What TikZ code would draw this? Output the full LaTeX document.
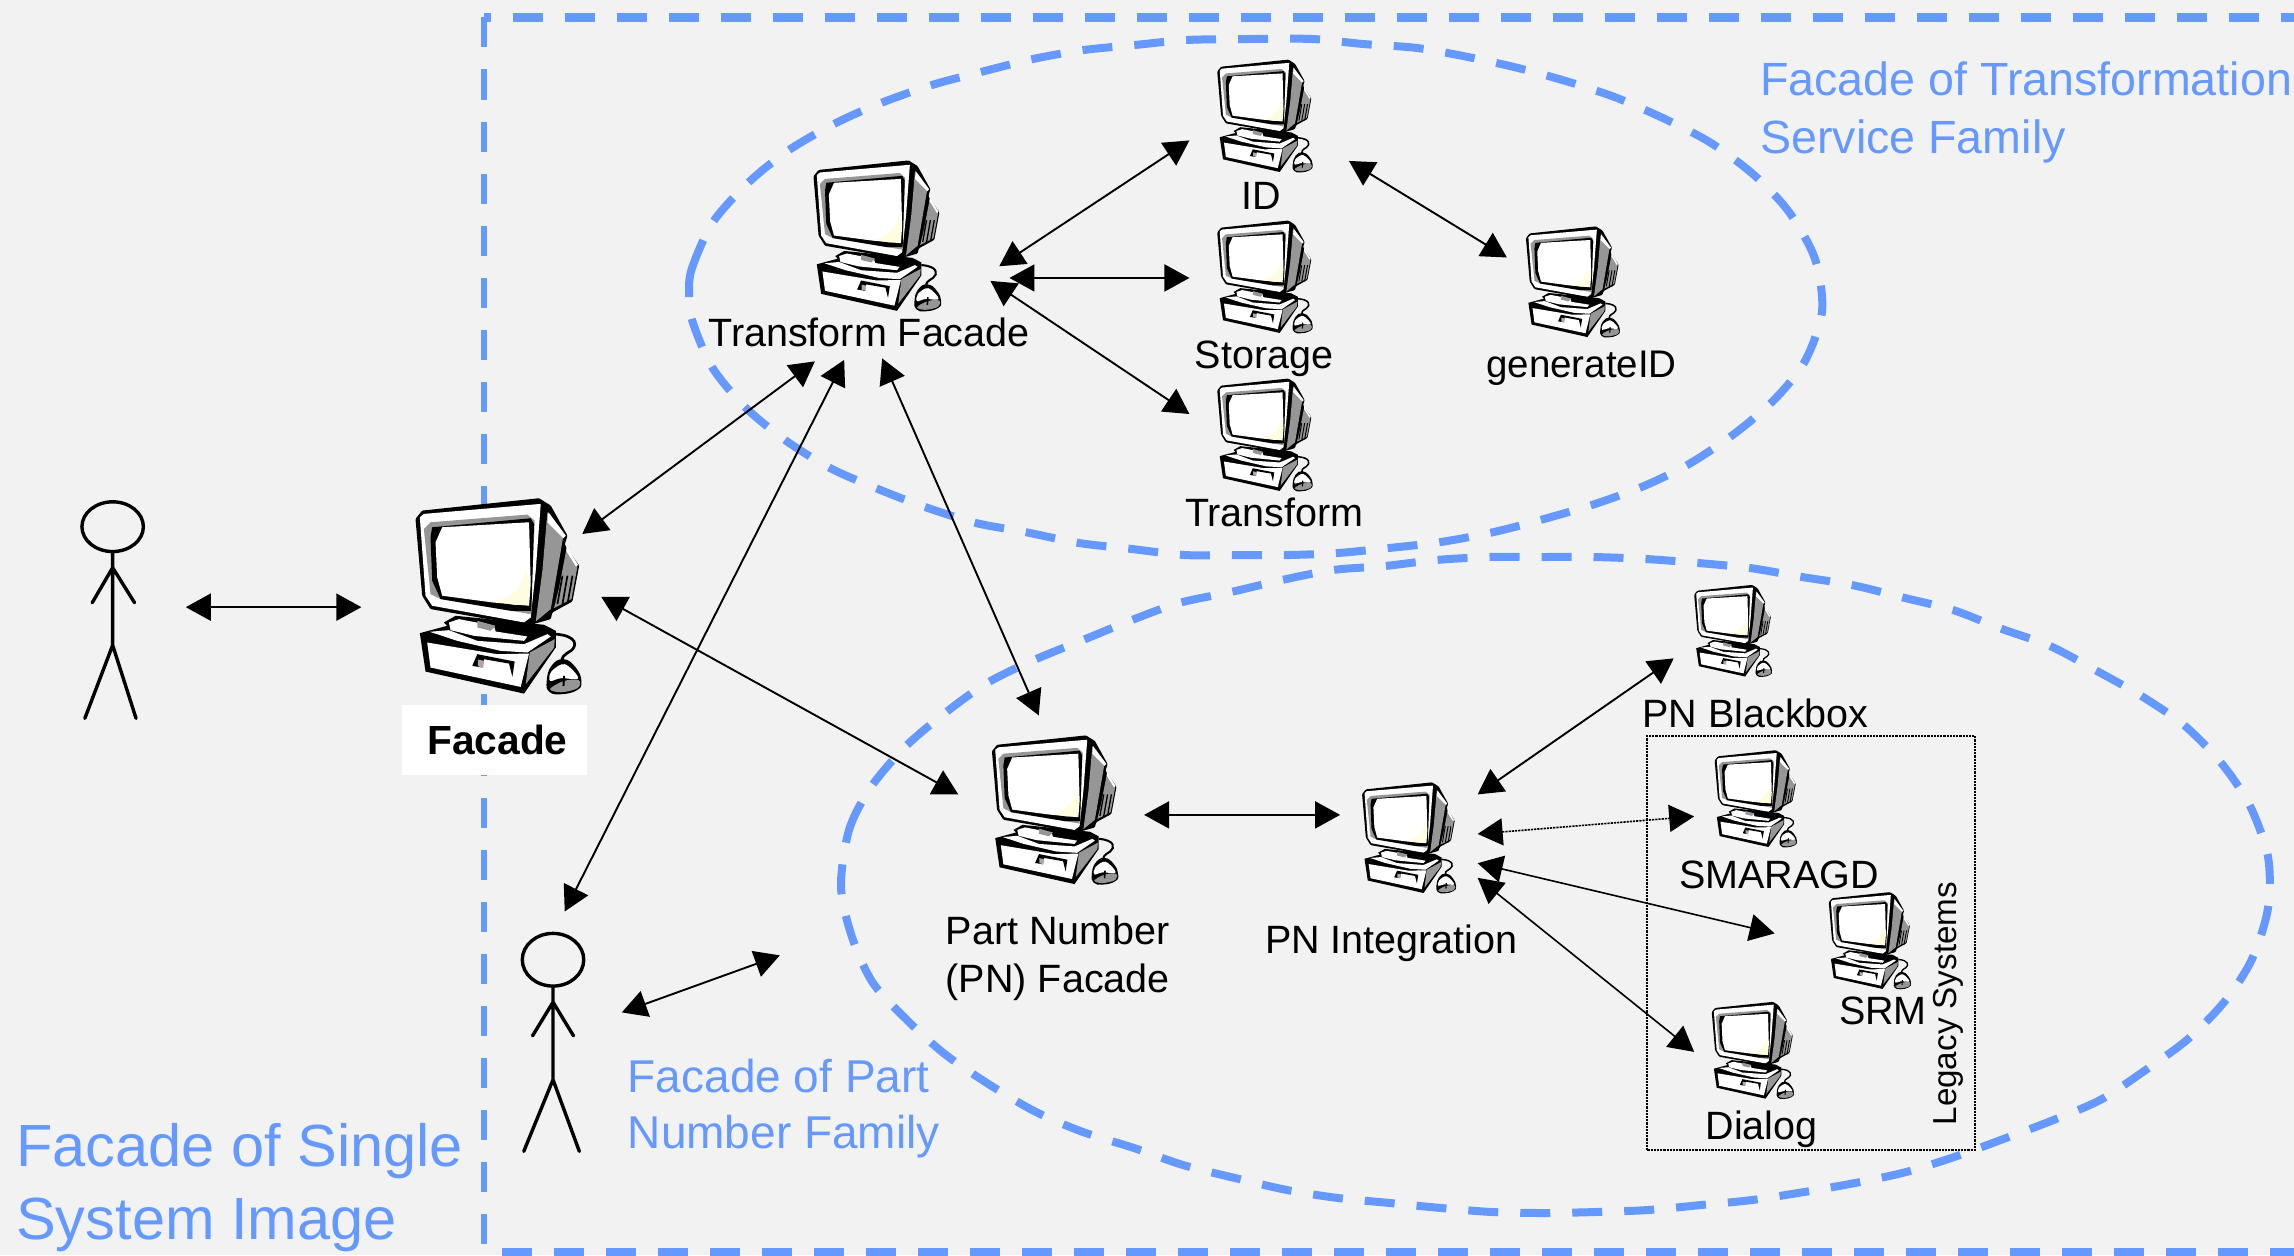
\documentclass[tikz,border=0pt]{standalone}
\usepackage{fontspec}
\setmainfont{Liberation Sans}
\usetikzlibrary{arrows.meta}
\definecolor{bgc}{HTML}{F2F2F2}
\definecolor{bluec}{HTML}{6699FF}
\definecolor{greyc}{HTML}{969696}
\definecolor{slotc}{HTML}{B5A5A5}
\tikzset{
  twoway/.style={{Triangle[length=25pt,width=27pt]}-{Triangle[length=25pt,width=27pt]},line width=1.9pt,black},
  thinway/.style={twoway,line width=1.6pt},
  dotway/.style={thinway,dash pattern=on 2.2pt off 1pt},
  dashblue/.style={draw=bluec,dash pattern=on 30pt off 22pt},
  familyline/.style={dashblue,line width=8pt},
  lbl/.style={inner sep=0pt,anchor=base,font=\fontsize{39.5}{47}\selectfont},
  bluelbl/.style={inner sep=0pt,anchor=west,align=left,text=bluec},
  stick/.style={line width=3.4pt,black,line cap=round,line join=round},
}
\newcommand{\computer}[3]{%
\pgfmathsetmacro{\cs}{#3*1.463/495}
\begin{scope}[shift={(#1,#2)}]
\begin{scope}[x=\cs pt,y=-\cs pt,shift={(-105,-85)}]
 \fill[black,rounded corners=1pt] (105,145)--(125,120)--(475,83)--(510,105)--(560,195)--(552,222)--(595,285)--(575,392)--(515,425)--(510,445)--(440,465)--(150,415)--(125,375)--cycle;
 \fill[white] (118,140)--(130,130)--(480,100)--(465,300)--(450,440)--(430,455)--(155,405)--(135,375)--cycle;
 \fill[greyc] (130,175)--(150,155)--(440,132)--(462,150)--(450,430)--(180,385)--(150,370)--cycle;
 \fill[black] (155,170)--(450,143)--(460,160)--(452,420)--(390,420)--(180,385)--(155,330)--(150,200)--cycle;
 \fill[white] (165,215)--(185,170)--(445,155)--(450,340)--(445,405)--(335,395)--(185,375)--(170,320)--cycle;
 \fill[yellow!12!white] (435,295) .. controls (425,360) and (385,385) .. (335,392) -- (400,402) -- (442,402) -- (447,340) -- cycle;
 \fill[greyc] (500,125)--(547,200)--(510,415)--(465,452)--(485,300)--cycle;
 \fill[white] (503,125)--(555,195)--(548,203)--(500,155)--cycle;
 \fill[greyc] (557,235)--(590,287)--(572,385)--(520,412)--(535,350)--cycle;
 \fill[white] (557,225)--(592,283)--(585,287)--(557,242)--cycle;
 \foreach \vx in {530,545,560} \draw[black,line width=\cs*5pt] (\vx,400)--(\vx+15,315);
 \fill[black] (118,487)--(200,465)--(190,455)--(225,435)--(490,462)--(525,480)--(525,530)--(430,668)--(135,602)--cycle;
 \fill[white] (205,455)--(235,445)--(340,465)--(345,482)--(440,497)--(430,510)--(280,495)--(210,478)--cycle;
 \fill[greyc] (290,450)--(345,465)--(330,480)--(290,470)--cycle;
 \fill[white] (148,483)--(205,478)--(290,510)--(430,520)--(500,490)--(510,497)--(440,545)--(360,540)--(230,510)--cycle;
 \fill[white] (140,515)--(350,550)--(445,548)--(420,648)--(150,590)--cycle;
 \fill[greyc] (447,545)--(522,505)--(520,530)--(435,640)--cycle;
 \fill[black] (275,585)--(290,550)--(402,572)--(395,618)--(385,578)--(310,565)--(305,590)--cycle;
 \fill[slotc] (292,566)--(310,570)--(308,590)--(292,586)--cycle;
 \draw[black,line width=\cs*8pt] (525,490) .. controls (590,495) and (590,525) .. (570,540) .. controls (550,552) and (540,560) .. (545,572);
 \fill[black] plot[smooth cycle,tension=.8] coordinates {(498,630)(512,585)(548,565)(585,590)(602,632)(588,658)(540,670)(505,662)};
 \fill[white] plot[smooth cycle,tension=.6] coordinates {(512,602)(552,580)(592,622)(540,622)(508,630)};
 \fill[greyc] plot[smooth cycle,tension=.6] coordinates {(508,654)(550,630)(594,628)(590,652)(540,664)};
 \draw[black,line width=\cs*6pt] (550,615)--(548,645);
\end{scope}
\end{scope}}
\begin{document}
\begin{tikzpicture}[x=1.463pt,y=-1.463pt]
\path[use as bounding box,fill=bgc] (0,0) rectangle (1568,858);
% family boundaries, in full-size pixels
\begin{scope}[x=1pt,y=-1pt]
\clip (0,0) rectangle (2294,1255);
\coordinate (sstl) at (484,17.5);
\coordinate (sstr) at (2294,17.5);
\coordinate (ssbl) at (484,1252);
\coordinate (ssbr) at (2294,1252);
\draw[dashblue,line width=8.5pt,dash phase=23pt] (sstl) -- (sstr);
\draw[dashblue,line width=8.5pt,dash phase=34pt] (ssbl) -- (ssbr);
\draw[dashblue,line width=6pt] (sstl) -- (ssbl);
\draw[familyline] plot[smooth cycle,tension=.5] coordinates {(689,293)(692,268)(713,222)(749,182)(789,150)(836,123)(881,103)(932,85)(981,72)(1033,59)(1084,50)(1135,45)(1187,40)(1249,39)(1312,39)(1363,44)(1417,48)(1468,57)(1518,68)(1569,82)(1617,98)(1667,120)(1711,143)(1754,175)(1789,212)(1815,259)(1822,311)(1805,361)(1774,400)(1734,434)(1689,464)(1644,486)(1595,504)(1544,519)(1494,532)(1441,542)(1389,548)(1338,553)(1289,555)(1235,555)(1184,555)(1132,549)(1079,543)(1025,532)(976,523)(925,507)(878,489)(830,468)(785,440)(745,407)(712,367)(692,320)};
\draw[familyline] plot[smooth cycle,tension=.5] coordinates {(841,887)(849,830)(871,787)(905,747)(945,713)(987,683)(1034,660)(1083,640)(1132,620)(1179,603)(1231,592)(1282,580)(1333,570)(1385,566)(1436,560)(1490,557)(1542,557)(1593,557)(1646,559)(1698,563)(1750,568)(1802,577)(1852,585)(1905,598)(1953,610)(2002,629)(2050,646)(2097,671)(2143,697)(2185,726)(2222,764)(2250,806)(2268,857)(2268,908)(2252,959)(2225,1001)(2188,1039)(2147,1069)(2102,1099)(2056,1119)(2006,1138)(1957,1156)(1906,1172)(1855,1183)(1804,1192)(1752,1200)(1701,1205)(1648,1210)(1596,1212)(1544,1213)(1492,1212)(1441,1208)(1390,1203)(1338,1198)(1287,1190)(1235,1178)(1183,1165)(1134,1148)(1083,1132)(1036,1112)(990,1085)(946,1055)(910,1023)(873,983)(852,937)};
\end{scope}
% legacy frame
\node[draw=black,dash pattern=on 2.2pt off 1pt,line width=2pt,minimum width=224*1.463pt,minimum height=283*1.463pt,inner sep=0pt] (legacy) at (1238,644.5) {};
\node[inner sep=0pt,rotate=90,font=\fontsize{33.2}{40}\selectfont] (legacylbl) at (1332,686) {Legacy Systems};
% facade label
\node[fill=white,minimum width=126*1.463pt,minimum height=48*1.463pt,inner sep=0pt] (facadebox) at (338,506) {};
\node[inner sep=0pt,anchor=base,font=\fontsize{40.7}{47}\bfseries\selectfont] (facadelbl) at (340,516) {Facade};
% computers
\computer{284}{341}{113}
\computer{556}{110}{87}
\computer{832}{41}{65}
\computer{832}{151}{65}
\computer{832}{259}{65}
\computer{1043}{155}{64}
\computer{678}{503}{86}
\computer{931}{535}{64}
\computer{1158}{400}{53}
\computer{1172}{513}{56}
\computer{1250}{610}{56}
\computer{1170}{685}{56}
% labels
\node[lbl] (ltf) at (594,237) {Transform Facade};
\node[lbl] (lid) at (862,143) {ID};
\node[lbl] (lst) at (864,252) {Storage};
\node[lbl] (ltr) at (871,360) {Transform};
\node[lbl,font=\fontsize{38.5}{47}\selectfont] (lge) at (1081,258) {generateID};
\node[lbl,align=center,font=\fontsize{39.5}{48}\selectfont,anchor=center] (lpn) at (723,655) {Part Number\\(PN) Facade};
\node[lbl] (lin) at (951,652) {PN Integration};
\node[lbl] (lbb) at (1200,497) {PN Blackbox};
\node[lbl] (lsm) at (1216,607) {SMARAGD};
\node[lbl] (lsr) at (1287,700) {SRM};
\node[lbl] (ldi) at (1204,779) {Dialog};
\node[bluelbl,font=\fontsize{46.6}{58.5}\selectfont] (btr) at (1203,77) {Facade of Transformation\\Service Family};
\node[bluelbl,font=\fontsize{46}{56}\selectfont] (bpn) at (429,758) {Facade of Part\\Number Family};
\node[bluelbl,font=\fontsize{59.5}{73}\selectfont] (bsi) at (11,812) {Facade of Single\\System Image};
% actors
\draw[stick] (77,360) ellipse [x radius=21,y radius=17] (77,377)--(77,441) (77,388)--(63,412) (77,388)--(92,412) (77,441)--(58,491) (77,441)--(93,491);
\draw[stick] (378,656) ellipse [x radius=21,y radius=18] (378,674)--(378,738) (378,685)--(364,708) (378,685)--(392,708) (378,738)--(358,787) (378,738)--(396,787);
% connector ends
\coordinate (p1) at (127,415); \coordinate (fa0) at (247,415);
\coordinate (fa1) at (398,365); \coordinate (tf1) at (557,247);
\coordinate (fa2) at (411,408); \coordinate (pn1) at (655,543);
\coordinate (tf2) at (577,246); \coordinate (p2) at (386,623);
\coordinate (tf3) at (603,245); \coordinate (pn2) at (710,489);
\coordinate (tf4) at (683,182); \coordinate (id1) at (813,96);
\coordinate (tf5) at (690,190); \coordinate (st1) at (813,190);
\coordinate (tf6) at (677,192); \coordinate (tr1) at (813,283);
\coordinate (id2) at (922,110); \coordinate (ge1) at (1030,176);
\coordinate (p2b) at (425,692); \coordinate (fpn) at (533,653);
\coordinate (pn3) at (782,557); \coordinate (in1) at (916,557);
\coordinate (in2) at (1010,543); \coordinate (bb1) at (1144,450);
\coordinate (in3) at (1010,570); \coordinate (sm1) at (1158,558);
\coordinate (in4) at (1010,590); \coordinate (sr1) at (1213,638);
\coordinate (in5) at (1010,600); \coordinate (di1) at (1158,719);
% connectors
\draw[twoway] (p1) -- (fa0);
\draw[twoway] (fa1) -- (tf1);
\draw[twoway] (fa2) -- (pn1);
\draw[twoway] (tf2) -- (p2);
\draw[twoway] (tf3) -- (pn2);
\draw[twoway] (tf4) -- (id1);
\draw[twoway] (tf5) -- (st1);
\draw[twoway] (tf6) -- (tr1);
\draw[twoway] (id2) -- (ge1);
\draw[twoway] (p2b) -- (fpn);
\draw[twoway] (pn3) -- (in1);
\draw[twoway] (in2) -- (bb1);
\draw[dotway] (in3) -- (sm1);
\draw[thinway] (in4) -- (sr1);
\draw[thinway] (in5) -- (di1);
\end{tikzpicture}
\end{document}
